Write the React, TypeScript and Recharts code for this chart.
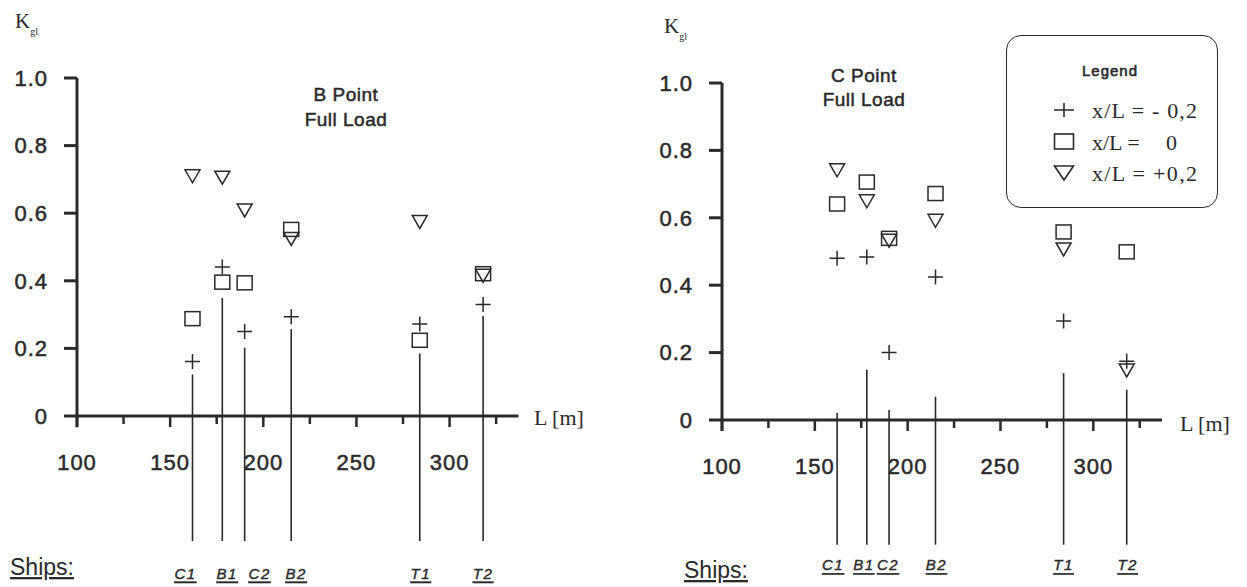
import React from 'react';
import { ScatterChart, Scatter, XAxis, YAxis, ReferenceLine, Legend } from 'recharts';

// ---- data ----
const ships = ['C1', 'B1', 'C2', 'B2', 'T1', 'T2'];
const shipLength = [162, 178, 190, 215, 284, 318];

// B Point, Full Load
const bMinus = [0.161, 0.441, 0.25, 0.294, 0.272, 0.33];
const bZero = [0.288, 0.396, 0.394, 0.552, 0.224, 0.421];
const bPlus = [0.709, 0.705, 0.608, 0.524, 0.574, 0.415];
const bLineTop = [0.123, 0.349, 0.202, 0.257, 0.185, 0.296];

// C Point, Full Load
const cMinus = [0.48, 0.484, 0.2, 0.424, 0.294, 0.174];
const cZero = [0.641, 0.706, 0.539, 0.672, 0.558, 0.499];
const cPlus = [0.741, 0.649, 0.532, 0.591, 0.506, 0.147];
const cLineTop = [0.021, 0.149, 0.03, 0.069, 0.139, 0.09];

const lineBottom = -0.37;
const yTicks = [0, 0.2, 0.4, 0.6, 0.8, 1.0];
const xTicks = [100, 125, 150, 175, 200, 225, 250, 275, 300, 325];
const xLabelTicks = [100, 150, 200, 250, 300];
const xDomain = [100, 337];
const seriesNames = ['x/L = - 0,2', 'x/L = 0', 'x/L = +0,2'];

// ---- styles ----
const INK = '#2a2a2a';
const SANS = '"Liberation Sans", Arial, Helvetica, sans-serif';
const SERIF = '"Liberation Serif", "Times New Roman", serif';

const PlusShape = (p: any) => {
  const { cx, cy } = p;
  if (cx == null || cy == null) return null;
  return <path d={`M${cx - 7.5},${cy}H${cx + 7.5}M${cx},${cy - 7.5}V${cy + 7.5}`} stroke={INK} strokeWidth={1.5} fill="none" />;
};
const SquareShape = (p: any) => {
  const { cx, cy } = p;
  if (cx == null || cy == null) return null;
  return <rect x={cx - 7.5} y={cy - 7} width={15} height={14} stroke={INK} strokeWidth={1.5} fill="none" />;
};
const TriangleShape = (p: any) => {
  const { cx, cy } = p;
  if (cx == null || cy == null) return null;
  return <path d={`M${cx - 7.5},${cy - 6.5}L${cx + 7.5},${cy - 6.5}L${cx},${cy + 6.5}Z`} stroke={INK} strokeWidth={1.5} fill="none" />;
};

const XTick = (p: any) => {
  const { x, y, payload } = p;
  const v = payload.value;
  const labeled = xLabelTicks.includes(v);
  return (
    <g>
      <line x1={x} x2={x} y1={y} y2={y + (labeled ? 11 : 8)} stroke={INK} strokeWidth={2.5} />
      {labeled && (
        <text x={x} y={y + 46} textAnchor="middle" dominantBaseline="central" fill={INK} stroke={INK} strokeWidth={0.5}
          style={{ fontFamily: SANS, fontSize: 22, letterSpacing: 1 }}>{v}</text>
      )}
    </g>
  );
};

const LegendBox = () => {
  const syms = [
    <path key="p" d="M48,75H68M58,68V82" stroke={INK} strokeWidth={1.6} fill="none" />,
    <rect key="s" x={48.5} y={99} width={19} height={15} stroke={INK} strokeWidth={1.6} fill="none" />,
    <path key="t" d="M48.5,131H67.5L58,145Z" stroke={INK} strokeWidth={1.6} fill="none" />,
  ];
  const rowsY = [83, 114.5, 146];
  const txt = { fontFamily: SERIF, fontSize: 22, fill: INK } as any;
  return (
    <div style={{ width: 212, height: 173, border: `1.5px solid ${INK}`, borderRadius: 15, boxSizing: 'border-box', background: '#fff', position: 'relative' }}>
      <svg width={212} height={173} style={{ position: 'absolute', left: -1.5, top: -1.5, overflow: 'visible' }}>
        <text x={104} y={41} textAnchor="middle" stroke={INK} strokeWidth={0.6} style={{ fontFamily: SANS, fontSize: 15, letterSpacing: 1 }} fill={INK}>Legend</text>
        {syms}
        {seriesNames.map((name, i) => (
          i === 1 ? (
            <g key={name}>
              <text x={86} y={rowsY[i]} style={txt}>x/L =</text>
              <text x={160} y={rowsY[i]} style={txt}>{name.replace('x/L =', '').trim()}</text>
            </g>
          ) : (
            <text key={name} x={86} y={rowsY[i]} textLength={105} lengthAdjust="spacing" style={txt}>{name}</text>
          )
        ))}
      </svg>
    </div>
  );
};

type Spec = {
  left: number; width: number; yAxisWidth: number; marginRight: number; marginTop: number; marginBottom: number;
  minus: number[]; zero: number[]; plus: number[]; lineTop: number[];
  labelDx: number[]; labelDy: number; legend: boolean;
  title: string[]; titleX: number; titleY: number[];
  kX: number; kY: number; lX: number; lY: number; shipsX: number; shipsY: number;
};

const Panel = ({ s }: { s: Spec }) => {
  const mk = (vals: number[]) => shipLength.map((L, i) => ({ L, v: vals[i] }));
  return (
    <div style={{ position: 'absolute', left: s.left, top: 0, width: s.width, height: 587 }}>
      <ScatterChart width={s.width} height={587}
        margin={{ top: s.marginTop, right: s.marginRight, bottom: s.marginBottom, left: 0 }}>
        <XAxis dataKey="L" type="number" domain={xDomain} ticks={xTicks} allowDataOverflow
          axisLine={{ stroke: INK, strokeWidth: 3 }} tickLine={false} tickSize={0} tickMargin={0}
          tick={<XTick />} height={60} interval={0} />
        <YAxis dataKey="v" type="number" domain={[0, 1]} ticks={yTicks} allowDataOverflow width={s.yAxisWidth}
          axisLine={false} tickLine={{ stroke: INK, strokeWidth: 3 }} tickSize={13} tickMargin={16}
          tickFormatter={(v: number) => (v === 0 ? '0' : v.toFixed(1))}
          tick={{ fill: INK, stroke: INK, strokeWidth: 0.5, fontSize: 22, fontFamily: SANS, letterSpacing: 1 } as any} interval={0} />
        <ReferenceLine segment={[{ x: 100, y: -0.033 }, { x: 100, y: 1 }]} stroke={INK} strokeWidth={3} ifOverflow="visible" />
        {shipLength.map((L, i) => (
          <ReferenceLine key={ships[i]} segment={[{ x: L, y: s.lineTop[i] }, { x: L, y: lineBottom }]}
            stroke={INK} strokeWidth={1.6} ifOverflow="visible"
            label={{
              value: ships[i],
              content: (lp: any) => {
                const vb = lp.viewBox || {};
                const x = (vb.x ?? 0) + (vb.width ?? 0) / 2 + s.labelDx[i];
                const y = (vb.y ?? 0) + (vb.height ?? 0) + s.labelDy;
                return (
                  <text x={x} y={y} textAnchor="middle" dominantBaseline="central" fill={INK} stroke={INK} strokeWidth={0.4}
                    style={{ fontFamily: SANS, fontSize: 15, fontStyle: 'italic', letterSpacing: 1.5, textDecoration: 'underline' }}>
                    {ships[i]}
                  </text>
                );
              },
            }} />
        ))}
        <Scatter name={seriesNames[0]} data={mk(s.minus)} shape={<PlusShape />} isAnimationActive={false} legendType="plainline" />
        <Scatter name={seriesNames[1]} data={mk(s.zero)} shape={<SquareShape />} isAnimationActive={false} legendType="square" />
        <Scatter name={seriesNames[2]} data={mk(s.plus)} shape={<TriangleShape />} isAnimationActive={false} legendType="triangle" />
        {s.legend && (
          <Legend layout="vertical" align="center" verticalAlign="middle" content={<LegendBox />}
            wrapperStyle={{ left: 386, top: 35, width: 212, height: 173 }} />
        )}
      </ScatterChart>
      <svg width={s.width} height={587} style={{ position: 'absolute', left: 0, top: 0, pointerEvents: 'none' }}>
        <text x={s.kX} y={s.kY} fill={INK} style={{ fontFamily: SERIF, fontSize: 21 }}>
          K<tspan fontSize={10} dy={7}>gl</tspan>
        </text>
        {s.title.map((t, i) => (
          <text key={t} x={s.titleX} y={s.titleY[i]} textAnchor="middle" fill={INK} stroke={INK} strokeWidth={0.5}
            style={{ fontFamily: SANS, fontSize: 19, letterSpacing: 0.5 }}>{t}</text>
        ))}
        <text x={s.lX} y={s.lY} fill={INK} style={{ fontFamily: SERIF, fontSize: 22 }}>L [m]</text>
        <text x={s.shipsX} y={s.shipsY} fill={INK} style={{ fontFamily: SANS, fontSize: 23, textDecoration: 'underline' }}>Ships:</text>
      </svg>
    </div>
  );
};

const leftSpec: Spec = {
  left: 0, width: 620, yAxisWidth: 77, marginRight: 101.5, marginTop: 78, marginBottom: 111,
  minus: bMinus, zero: bZero, plus: bPlus, lineTop: bLineTop,
  labelDx: [-7, 5, 15, 5, 1, 0], labelDy: 32, legend: false,
  title: ['B Point', 'Full Load'], titleX: 346, titleY: [100.5, 126],
  kX: 15, kY: 27.5, lX: 534, lY: 425, shipsX: 10, shipsY: 575,
};

const rightSpec: Spec = {
  left: 620, width: 627, yAxisWidth: 102, marginRight: 85, marginTop: 83, marginBottom: 107,
  minus: cMinus, zero: cZero, plus: cPlus, lineTop: cLineTop,
  labelDx: [-4, -3, -1, 1, 0, 1], labelDy: 20, legend: true,
  title: ['C Point', 'Full Load'], titleX: 244, titleY: [82, 106],
  kX: 44, kY: 33, lX: 560, lY: 431, shipsX: 64, shipsY: 578,
};

export default function App() {
  return (
    <div style={{ position: 'absolute', left: 0, top: 0, width: 1247, height: 587, background: '#fff', overflow: 'hidden' }}>
      <Panel s={leftSpec} />
      <Panel s={rightSpec} />
    </div>
  );
}
